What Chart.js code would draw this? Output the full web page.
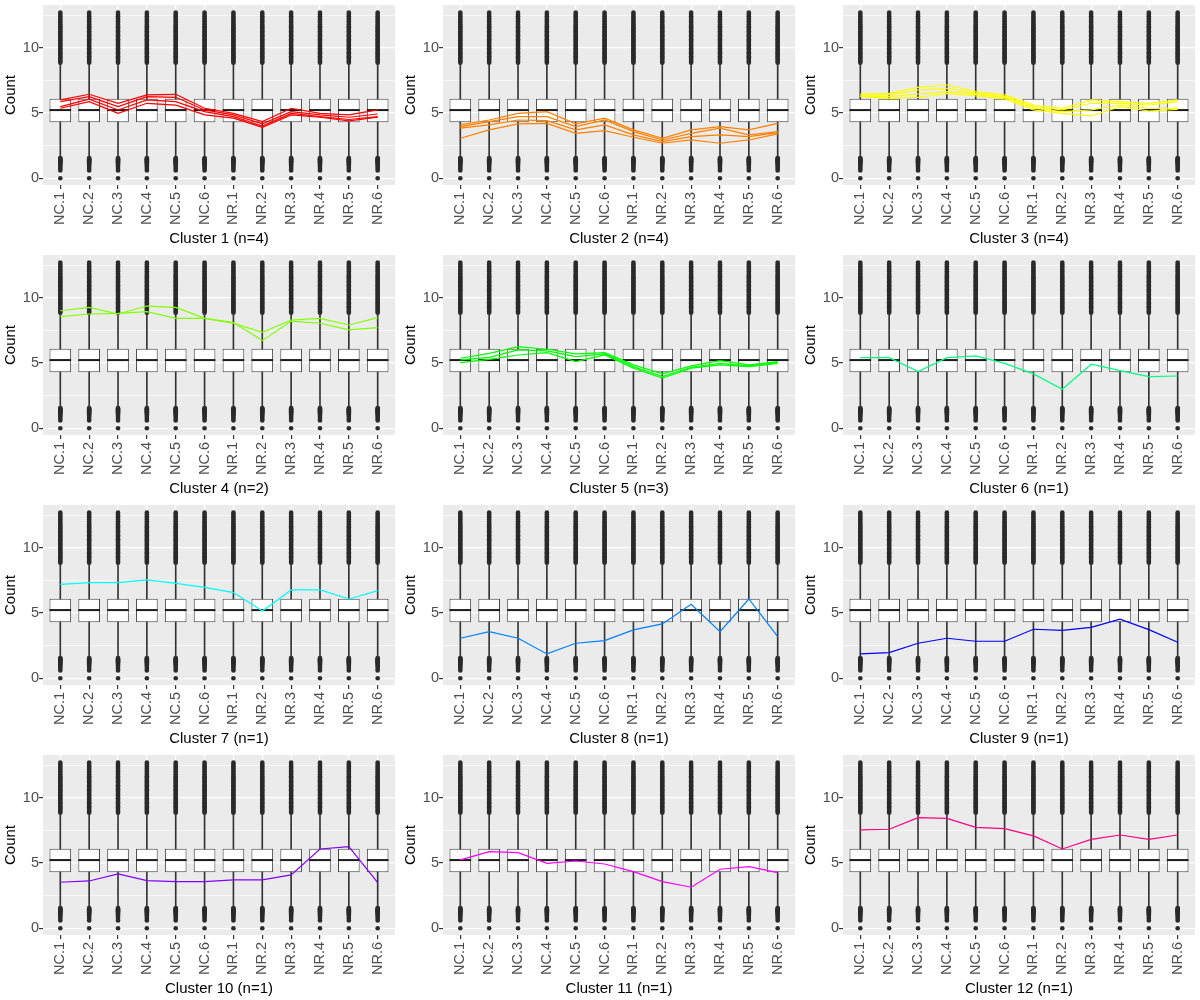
<!DOCTYPE html>
<html>
<head>
<meta charset="utf-8">
<script src="https://cdn.jsdelivr.net/npm/chart.js@4.4.1/dist/chart.umd.min.js"></script>
<style>
html, body { margin: 0; padding: 0; background: #ffffff; }
#grid { display: grid; grid-template-columns: 400px 400px 400px; grid-template-rows: 250px 250px 250px 250px; width: 1200px; }
canvas { display: block; }
</style>
</head>
<body>
<div id="grid"></div>
<script>
// ---------- DATA ----------
const categories = ['NC.1','NC.2','NC.3','NC.4','NC.5','NC.6','NR.1','NR.2','NR.3','NR.4','NR.5','NR.6'];

// box-plot statistics per category (same distribution in every panel)
const boxQ1       = [4.28, 4.28, 4.28, 4.28, 4.28, 4.28, 4.28, 4.28, 4.28, 4.28, 4.28, 4.28];
const boxMedian   = [5.22, 5.22, 5.22, 5.22, 5.22, 5.22, 5.22, 5.22, 5.22, 5.22, 5.22, 5.22];
const boxQ3       = [6.09, 6.09, 6.09, 6.09, 6.09, 6.09, 6.09, 6.09, 6.09, 6.09, 6.09, 6.09];
const whiskerLow  = [1.6, 1.6, 1.6, 1.6, 1.6, 1.6, 1.6, 1.6, 1.6, 1.6, 1.6, 1.6];
const whiskerHigh = [8.8, 8.8, 8.8, 8.8, 8.8, 8.8, 8.8, 8.8, 8.8, 8.8, 8.8, 8.8];

// outliers drawn in every category
const upperOutliers = [8.85, 8.95, 9.05, 9.15, 9.25, 9.35, 9.45, 9.55, 9.65, 9.75, 9.85, 9.95,
  10.05, 10.15, 10.25, 10.35, 10.45, 10.55, 10.65, 10.75, 10.85, 10.95, 11.05, 11.15, 11.25,
  11.35, 11.45, 11.55, 11.65, 11.78, 11.9, 12.02, 12.15, 12.28, 12.4, 12.55, 12.7];
const lowerOutliers = [1.55, 1.5, 1.45, 1.4, 1.35, 1.3, 1.25, 1.2, 1.12, 1.05, 0.95, 0.85, 0.72, 0.6, 0];

// y axis
const yGridValues = [0, 2.5, 5, 7.5, 10, 12.5];
const yTickLabels = [0, 5, 10];

// cluster profiles (one array of 12 values per member)
const cluster1 = [
  [6.0, 6.43, 5.74, 6.38, 6.43, 5.36, 4.97, 4.34, 5.36, 4.97, 4.85, 5.23],
  [5.87, 6.25, 5.48, 6.25, 6.2, 5.23, 4.85, 4.16, 5.1, 4.85, 4.67, 4.92],
  [5.48, 6.05, 5.23, 6.0, 5.87, 5.1, 4.72, 4.0, 4.97, 4.72, 4.5, 4.72],
  [5.36, 5.87, 4.97, 5.74, 5.6, 4.85, 4.6, 3.9, 4.85, 4.67, 4.4, 4.67]
];
const cluster2 = [
  [4.08, 4.46, 4.97, 5.1, 4.16, 4.6, 3.7, 3.06, 3.7, 3.95, 3.7, 4.2],
  [3.95, 4.34, 4.72, 4.72, 3.95, 4.46, 3.57, 2.93, 3.44, 3.83, 3.32, 3.57],
  [3.83, 4.08, 4.46, 4.41, 3.7, 4.08, 3.32, 2.8, 3.19, 3.32, 3.19, 3.49],
  [3.06, 3.7, 4.16, 4.2, 3.44, 3.65, 3.14, 2.68, 2.93, 2.68, 2.93, 3.4]
];
const cluster3 = [
  [6.45, 6.5, 6.96, 7.14, 6.63, 6.38, 5.61, 5.36, 6.0, 5.87, 5.74, 6.0],
  [6.38, 6.38, 6.76, 6.89, 6.5, 6.25, 5.48, 5.23, 5.74, 5.74, 5.61, 5.87],
  [6.3, 6.25, 6.45, 6.63, 6.43, 6.17, 5.36, 5.1, 5.23, 5.61, 5.36, 5.36],
  [6.25, 6.12, 6.2, 6.5, 6.3, 6.07, 5.23, 4.97, 4.77, 5.48, 5.15, 5.28]
];
const cluster4 = [
  [9.0, 9.26, 8.75, 9.36, 9.26, 8.42, 8.04, 7.35, 8.29, 8.42, 7.91, 8.47],
  [8.55, 8.75, 8.8, 8.93, 8.42, 8.42, 8.09, 6.71, 8.21, 8.04, 7.53, 7.7]
];
const cluster5 = [
  [5.36, 5.74, 6.25, 6.05, 5.69, 5.79, 4.85, 4.16, 4.77, 5.18, 4.85, 5.1],
  [5.23, 5.43, 6.0, 5.92, 5.48, 5.69, 4.72, 3.95, 4.67, 4.97, 4.77, 5.03],
  [5.03, 5.28, 5.61, 5.79, 5.1, 5.61, 4.6, 3.83, 4.6, 4.85, 4.72, 4.97]
];
const cluster6 = [
  [5.41, 5.41, 4.34, 5.41, 5.54, 4.97, 4.16, 2.98, 4.9, 4.41, 3.95, 4.0]
];
const cluster7 = [
  [7.19, 7.32, 7.32, 7.53, 7.27, 6.96, 6.56, 5.15, 6.76, 6.76, 6.07, 6.71]
];
const cluster8 = [
  [3.06, 3.57, 3.06, 1.86, 2.68, 2.88, 3.7, 4.16, 5.66, 3.57, 6.07, 3.19]
];
const cluster9 = [
  [1.86, 1.96, 2.68, 3.06, 2.83, 2.83, 3.75, 3.67, 3.9, 4.52, 3.72, 2.76]
];
const cluster10 = [
  [3.52, 3.62, 4.16, 3.65, 3.57, 3.57, 3.7, 3.7, 4.08, 6.07, 6.25, 3.49]
];
const cluster11 = [
  [5.23, 5.87, 5.79, 4.97, 5.15, 4.92, 4.34, 3.57, 3.14, 4.52, 4.72, 4.26]
];
const cluster12 = [
  [7.53, 7.58, 8.47, 8.42, 7.73, 7.63, 7.07, 6.07, 6.81, 7.14, 6.81, 7.14]
];
const clusterSizes = [4, 4, 4, 2, 3, 1, 1, 1, 1, 1, 1, 1];

// ---------- STYLE ----------
const clusterColors = ['#FF0000','#FF8000','#FFFF00','#80FF00','#00FF00','#00FF80',
                       '#00FFFF','#0080FF','#0000FF','#8000FF','#FF00FF','#FF0080'];
const allClusters = [cluster1, cluster2, cluster3, cluster4, cluster5, cluster6,
                     cluster7, cluster8, cluster9, cluster10, cluster11, cluster12];

Chart.defaults.font.family = "'Liberation Sans', Arial, Helvetica, sans-serif";

const panelBg = {
  id: 'panelBg',
  beforeDraw(chart) {
    const { ctx, chartArea: a } = chart;
    ctx.save();
    ctx.fillStyle = '#EBEBEB';
    ctx.fillRect(a.left, a.top, a.right - a.left, a.bottom - a.top);
    ctx.restore();
  }
};

const toPts = arr => arr.map((v, i) => ({ x: i, y: v }));

function buildChart(canvas, idx) {
  const color = clusterColors[idx];
  const datasets = [];
  allClusters[idx].forEach(line => {
    datasets.push({
      type: 'line', data: toPts(line), borderColor: color, borderWidth: 1.2,
      pointRadius: 0, fill: false, tension: 0, order: 0
    });
  });
  datasets.push({
    type: 'line', data: toPts(boxMedian), showLine: false, pointStyle: 'line',
    pointRadius: 10.8, pointBorderColor: '#1a1a1a', pointBorderWidth: 2, order: 1
  });
  datasets.push({
    type: 'bar', data: categories.map((c, i) => ({ x: i, y: [boxQ1[i], boxQ3[i]] })),
    backgroundColor: '#ffffff', borderColor: '#444444', borderWidth: 1, borderSkipped: false,
    barPercentage: 0.75, categoryPercentage: 1, grouped: false, order: 2
  });
  datasets.push({
    type: 'bar', data: categories.map((c, i) => ({ x: i, y: [whiskerLow[i], whiskerHigh[i]] })),
    backgroundColor: '#333333', borderWidth: 0, barThickness: 1, grouped: false, order: 3
  });
  const outPts = [];
  categories.forEach((c, i) => {
    upperOutliers.forEach(v => outPts.push({ x: i, y: v }));
    lowerOutliers.forEach(v => outPts.push({ x: i, y: v }));
  });
  datasets.push({
    type: 'line', data: outPts, showLine: false, pointRadius: 2.3,
    pointBackgroundColor: '#2a2a2a', pointBorderWidth: 0, order: 4
  });

  return new Chart(canvas, {
    type: 'bar',
    data: { datasets },
    plugins: [panelBg],
    options: {
      responsive: false,
      animation: false,
      events: [],
      layout: { autoPadding: false, padding: { top: 5, right: 5, left: 0, bottom: 0 } },
      plugins: { legend: { display: false }, tooltip: { enabled: false } },
      scales: {
        x: {
          type: 'linear', min: -0.6, max: 11.6, offset: false,
          afterBuildTicks: s => { s.ticks = categories.map((c, i) => ({ value: i })); },
          afterFit: s => { s.height = 65; s.paddingLeft = 0; s.paddingRight = 0; },
          ticks: {
            callback: v => categories[v], autoSkip: false,
            maxRotation: 90, minRotation: 90, padding: 3,
            color: '#4D4D4D', font: { size: 14.5 }
          },
          grid: { offset: false, color: '#ffffff', lineWidth: 1.2, tickColor: '#333333', tickLength: 4 },
          border: { display: false },
          title: {
            display: true, text: 'Cluster ' + (idx + 1) + ' (n=' + clusterSizes[idx] + ')',
            color: '#000000', font: { size: 15 }, padding: { top: 0, bottom: 2.5 }
          }
        },
        y: {
          min: -0.52, max: 13.27,
          afterBuildTicks: s => { s.ticks = yGridValues.map(v => ({ value: v })); },
          afterFit: s => { s.width = 43; s.paddingTop = 0; s.paddingBottom = 0; },
          ticks: {
            callback: v => (yTickLabels.includes(v) ? String(v) : ''),
            padding: 0, color: '#4D4D4D', font: { size: 14.5 }
          },
          grid: {
            color: '#ffffff',
            lineWidth: ctx => (yTickLabels.includes(ctx.tick.value) ? 1.2 : 0.6),
            tickColor: ctx => (yTickLabels.includes(ctx.tick.value) ? '#333333' : 'rgba(0,0,0,0)'),
            tickLength: 4
          },
          border: { display: false },
          title: {
            display: true, text: 'Count', color: '#000000',
            font: { size: 15 }, padding: { top: 2, bottom: 0 }
          }
        }
      }
    }
  });
}

const grid = document.getElementById('grid');
for (let i = 0; i < 12; i++) {
  const cv = document.createElement('canvas');
  cv.width = 400; cv.height = 250;
  grid.appendChild(cv);
  buildChart(cv, i);
}
</script>
</body>
</html>
